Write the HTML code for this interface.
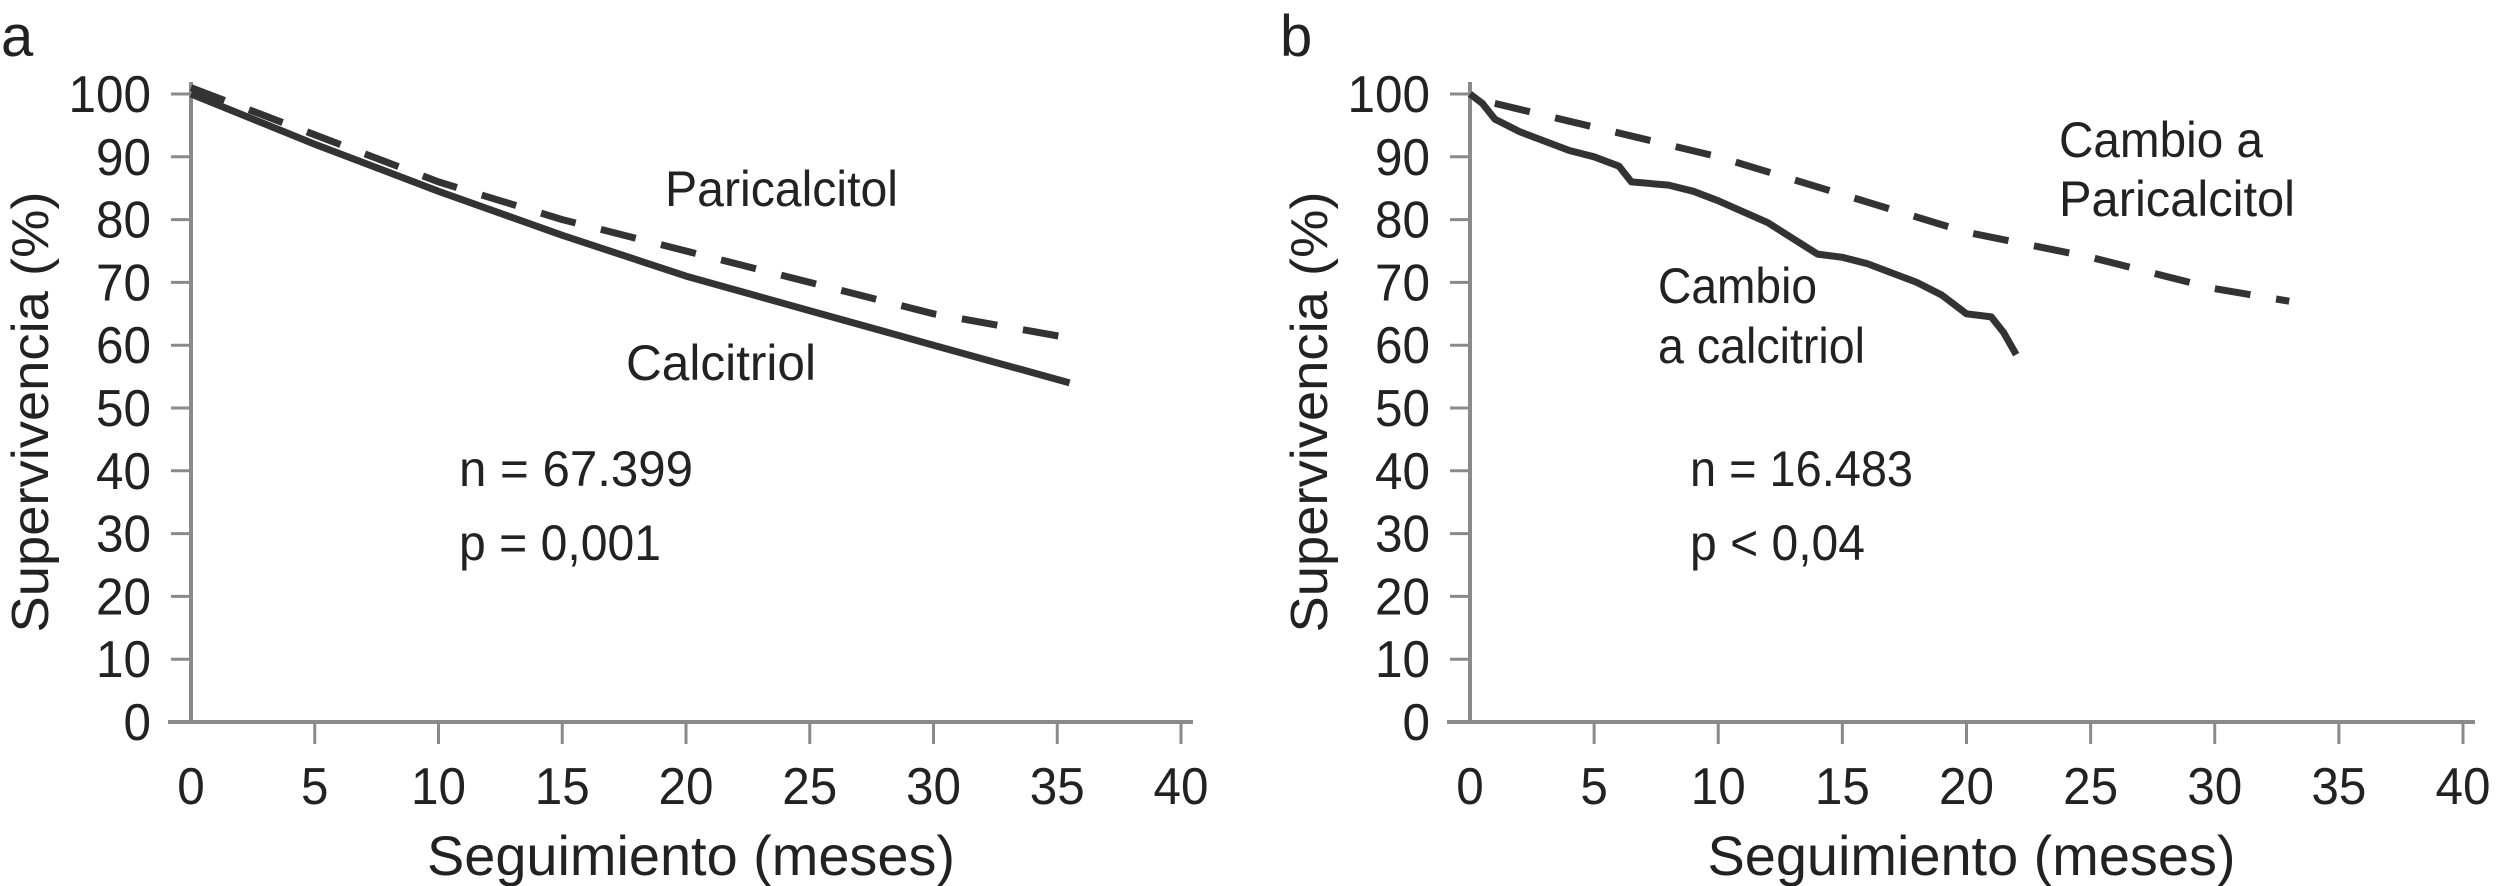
<!DOCTYPE html>
<html><head><meta charset="utf-8"><style>
html,body{margin:0;padding:0;background:#fff;}
svg{display:block;font-family:"Liberation Sans",Arial,sans-serif;}
</style></head><body>
<svg id="chart" width="2499" height="886" viewBox="0 0 2499 886" xmlns="http://www.w3.org/2000/svg"></svg>
<script>
// Panel a data
const xTicks = [0,5,10,15,20,25,30,35,40];
const yTicks = [0,10,20,30,40,50,60,70,80,90,100];
const aCalcitriolX = [0,5,10,15,20,25,30,35.5];
const aCalcitriolY = [100,92,84.5,77.5,71,65.5,60,54];
const aParicalcitolX = [0,5,10,15,20,25,30,36];
const aParicalcitolY = [101,93.5,86,80,75,70,65,60.8];
// Panel b data
const bCalcitriolX = [0,0.5,1,2,3,4,5,6,6.5,8,9,10,12,13,14,15,16,17,18,19,20,21,21.5,22];
const bCalcitriolY = [100,98.5,96,94,92.5,91,90,88.5,86,85.5,84.5,83,79.5,77,74.5,74,73,71.5,70,68,65,64.5,62,58.5];
const bParicalcitolX = [1,10,20,25,30,33];
const bParicalcitolY = [98.5,90,78,74,69,67];

const NS="http://www.w3.org/2000/svg";
const svg=document.getElementById('chart');
function mk(tag,attrs,parent){const e=document.createElementNS(NS,tag);for(const k in attrs)e.setAttribute(k,attrs[k]);(parent||svg).appendChild(e);return e;}

function panel(ox, x1, letter, series, notes){
  const g=mk('g',{});
  
  
  const x0=ox, y0=722, y1=94;
  const sx=v=>x0+(x1-x0)*v/40, sy=v=>y0+(y1-y0)*v/100;
  const lt=mk('text',{x:ox-190,y:56,'font-size':58,fill:'#222'},g);lt.textContent=letter;
  
  
  const ya=mk('line',{x1:x0,y1:y0+2,x2:x0,y2:82,stroke:'#8a8a8a','stroke-width':4},g);
  
  
  const xa=mk('line',{x1:x0-23,y1:y0,x2:x1+12,y2:y0,stroke:'#8a8a8a','stroke-width':4},g);
  
  
  yTicks.forEach(v=>{
    mk('line',{x1:x0-20,y1:sy(v),x2:x0,y2:sy(v),stroke:'#8a8a8a','stroke-width':3},g);
    const s=String(v);
    const t=mk('text',{x:x0-40,y:sy(v)+18,'font-size':52,'text-anchor':'end',fill:'#222',textLength:s.length*27.5,lengthAdjust:'spacingAndGlyphs'},g);
    t.textContent=s;
    
    
  });
  xTicks.forEach(v=>{
    if(v>0) mk('line',{x1:sx(v),y1:y0,x2:sx(v),y2:y0+22,stroke:'#8a8a8a','stroke-width':3},g);
    const s=String(v);
    const t=mk('text',{x:sx(v),y:804,'font-size':52,'text-anchor':'middle',fill:'#222',textLength:s.length*27.5,lengthAdjust:'spacingAndGlyphs'},g);
    t.textContent=s;
    
    
  });
  const xt=mk('text',{x:(x0+x1)/2+5,y:875,'font-size':56,'text-anchor':'middle',fill:'#222',textLength:528,lengthAdjust:'spacingAndGlyphs'},g);
  xt.textContent='Seguimiento (meses)';
  
  
  const yt=mk('text',{x:0,y:0,'font-size':52,'text-anchor':'middle',fill:'#222',textLength:441,lengthAdjust:'spacingAndGlyphs',transform:`translate(${ox-143},412) rotate(-90)`},g);
  yt.textContent='Supervivencia (%)';
  
  
  series.forEach(s=>{
    const d=s.xs.map((x,i)=>(i?'L':'M')+sx(x).toFixed(1)+','+sy(s.ys[i]).toFixed(1)).join(' ');
    const p=mk('path',{d:d,fill:'none',stroke:'#333','stroke-width':7,'stroke-linejoin':'round','stroke-dasharray':s.dash?'36 26':'none'},g);
    
    
  });
  notes.forEach(n=>{
    const t=mk('text',{x:n[0],y:n[1],'font-size':50,fill:'#222',textLength:n[4],lengthAdjust:'spacingAndGlyphs'},g);
    t.textContent=n[2];
    
    
  });
}
panel(191,1181,'a',[
  {xs:aCalcitriolX,ys:aCalcitriolY,dash:false,name:'calcitriol-line'},
  {xs:aParicalcitolX,ys:aParicalcitolY,dash:true,name:'paricalcitol-line'}
],[[665,206,'Paricalcitol','paricalcitol-label',233],[626,380,'Calcitriol','calcitriol-label',190],[459,486,'n = 67.399','n-annotation',234],[459,560,'p = 0,001','p-annotation',202]]);
panel(1470,2463,'b',[
  {xs:bCalcitriolX,ys:bCalcitriolY,dash:false,name:'calcitriol-line'},
  {xs:bParicalcitolX,ys:bParicalcitolY,dash:true,name:'paricalcitol-line'}
],[[2059,157,'Cambio a','paricalcitol-label-1',204],[2059,216,'Paricalcitol','paricalcitol-label-2',236],[1658,303,'Cambio','calcitriol-label-1',159],[1658,363,'a calcitriol','calcitriol-label-2',207],[1690,486,'n = 16.483','n-annotation',223],[1690,560,'p < 0,04','p-annotation',175]]);
</script>
</body></html>
